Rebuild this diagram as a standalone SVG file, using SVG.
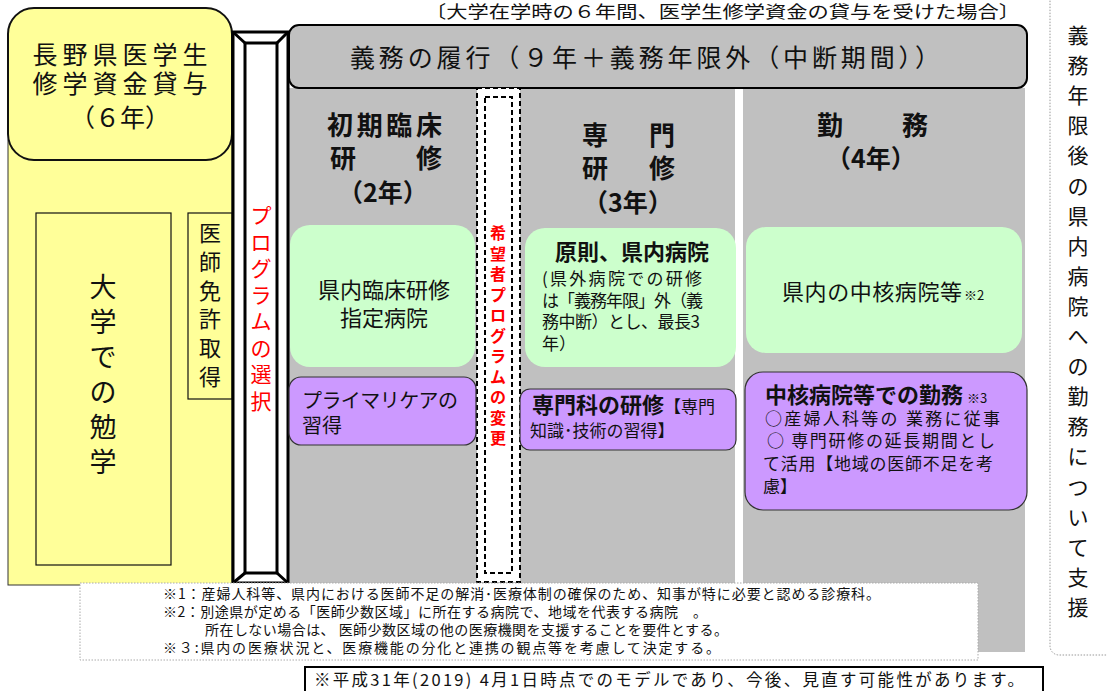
<svg xmlns="http://www.w3.org/2000/svg" width="1107" height="691" viewBox="0 0 1107 691">
<style>
text{font-family:"Noto Sans CJK JP","Noto Sans",sans-serif;fill:#111}
.b{font-weight:bold}
.red{fill:#ff0000}
.grn{fill:#ccffcc}
.pur{fill:#cc99ff;stroke:#333;stroke-width:1.2}
.bar{fill:#fff;stroke:#000;stroke-width:3}
.dbar{fill:#fff;stroke:#000;stroke-width:2;stroke-dasharray:5 3}
.vt{text-anchor:middle}
</style>
<rect width="1107" height="691" fill="#fff"/>
<text x="425" y="18" font-size="17.5" textLength="595" lengthAdjust="spacingAndGlyphs">〔大学在学時の６年間、医学生修学資金の貸与を受けた場合〕</text>

<g id="right-panel">
<rect x="1050" y="-12" width="72" height="667" rx="9" fill="#fff" stroke="#999" stroke-width="1" stroke-dasharray="1.5 1.5"/>
<text class="vt" font-size="21" x="1078" y="43"><tspan x="1078">義</tspan><tspan x="1078" dy="30.1">務</tspan><tspan x="1078" dy="30.1">年</tspan><tspan x="1078" dy="30.1">限</tspan><tspan x="1078" dy="30.1">後</tspan><tspan x="1078" dy="30.1">の</tspan><tspan x="1078" dy="30.1">県</tspan><tspan x="1078" dy="30.1">内</tspan><tspan x="1078" dy="30.1">病</tspan><tspan x="1078" dy="30.1">院</tspan><tspan x="1078" dy="30.1">へ</tspan><tspan x="1078" dy="30.1">の</tspan><tspan x="1078" dy="30.1">勤</tspan><tspan x="1078" dy="30.1">務</tspan><tspan x="1078" dy="30.1">に</tspan><tspan x="1078" dy="30.1">つ</tspan><tspan x="1078" dy="30.1">い</tspan><tspan x="1078" dy="30.1">て</tspan><tspan x="1078" dy="30.1">支</tspan><tspan x="1078" dy="30.1">援</tspan></text>
</g>

<g id="gray-area">
<rect x="289" y="88" width="736" height="564" fill="#c0c0c0"/>
<rect x="735" y="88" width="8" height="564" fill="#fff"/>
</g>

<g id="yellow-study">
<rect x="8" y="140" width="224" height="445" fill="#ffff99" stroke="#333" stroke-width="1"/>
<rect x="36" y="213" width="135" height="352" fill="#ffff99" stroke="#111" stroke-width="1.2"/>
<text class="vt" font-size="27" x="103" y="297"><tspan x="103">大</tspan><tspan x="103" dy="35">学</tspan><tspan x="103" dy="35">で</tspan><tspan x="103" dy="35">の</tspan><tspan x="103" dy="35">勉</tspan><tspan x="103" dy="35">学</tspan></text>
</g>

<g id="license">
<rect x="188" y="213" width="44" height="186" fill="#ffff99" stroke="#111" stroke-width="1.2"/>
<text class="vt" font-size="22" x="210" y="241"><tspan x="210">医</tspan><tspan x="210" dy="28.8">師</tspan><tspan x="210" dy="28.8">免</tspan><tspan x="210" dy="28.8">許</tspan><tspan x="210" dy="28.8">取</tspan><tspan x="210" dy="28.8">得</tspan></text>
</g>

<g id="loan">
<rect x="8" y="8" width="224" height="152" rx="26" fill="#ffff99" stroke="#111" stroke-width="2"/>
<text x="120" y="64" font-size="25" text-anchor="middle" textLength="175" lengthAdjust="spacing">長野県医学生</text>
<text x="120" y="93" font-size="25" text-anchor="middle" textLength="175" lengthAdjust="spacing">修学資金貸与</text>
<text x="120" y="127" font-size="25" text-anchor="middle">（６年）</text>
</g>

<g id="program-select">
<rect class="bar" x="233" y="32" width="55" height="551"/>
<rect class="bar" x="245" y="43" width="32" height="530"/>
<path d="M233 32L245 43M288 32L277 43M233 583L245 573M288 583L277 573" stroke="#000" stroke-width="3"/>
<text class="vt red" font-size="21" x="261" y="223"><tspan x="261">プ</tspan><tspan x="261" dy="26.5">ロ</tspan><tspan x="261" dy="26.5">グ</tspan><tspan x="261" dy="26.5">ラ</tspan><tspan x="261" dy="26.5">ム</tspan><tspan x="261" dy="26.5">の</tspan><tspan x="261" dy="26.5">選</tspan><tspan x="261" dy="26.5">択</tspan></text>
</g>

<g id="duty-title">
<rect x="289" y="25" width="738" height="63" rx="10" fill="#c0c0c0" stroke="#000" stroke-width="2"/>
<text x="350" y="67" font-size="25" textLength="590" lengthAdjust="spacing">義務の履行（９年＋義務年限外（中断期間））</text>
</g>

<g id="program-change">
<rect class="dbar" x="477" y="88" width="43" height="494"/>
<rect class="dbar" x="485" y="97" width="27" height="476"/>
<text class="vt red b" font-size="16" x="498" y="239"><tspan x="498">希</tspan><tspan x="498" dy="20.5">望</tspan><tspan x="498" dy="20.5">者</tspan><tspan x="498" dy="20.5">プ</tspan><tspan x="498" dy="20.5">ロ</tspan><tspan x="498" dy="20.5">グ</tspan><tspan x="498" dy="20.5">ラ</tspan><tspan x="498" dy="20.5">ム</tspan><tspan x="498" dy="20.5">の</tspan><tspan x="498" dy="20.5">変</tspan><tspan x="498" dy="20.5">更</tspan></text>
</g>

<g id="col-initial">
<text class="b" x="327" y="135" font-size="26" textLength="115" lengthAdjust="spacing">初期臨床</text>
<text class="b" x="330" y="168" font-size="26">研</text>
<text class="b" x="416" y="168" font-size="26">修</text>
<text class="b" x="383" y="202" font-size="25" text-anchor="middle">（2年）</text>
</g>
<g id="initial-hospital">
<rect class="grn" x="290" y="225" width="185" height="142" rx="20"/>
<text x="384" y="298" font-size="22" text-anchor="middle">県内臨床研修</text>
<text x="384" y="326" font-size="22" text-anchor="middle">指定病院</text>
</g>
<g id="primary-care">
<rect class="pur" x="289" y="377" width="187" height="68" rx="12"/>
<text x="302" y="408" font-size="20" textLength="156" lengthAdjust="spacing">プライマリケアの</text>
<text x="302" y="433" font-size="20">習得</text>
</g>

<g id="col-specialty">
<text class="b" x="582" y="145" font-size="26">専</text>
<text class="b" x="649" y="145" font-size="26">門</text>
<text class="b" x="582" y="178" font-size="26">研</text>
<text class="b" x="649" y="178" font-size="26">修</text>
<text class="b" x="628" y="212" font-size="25" text-anchor="middle">（3年）</text>
</g>
<g id="specialty-hospital">
<rect class="grn" x="525" y="228" width="211" height="139" rx="20"/>
<text class="b" x="632" y="260" font-size="22" text-anchor="middle">原則、県内病院</text>
<text x="542" y="285" font-size="17" textLength="160" lengthAdjust="spacing">(県外病院での研修</text>
<text x="542" y="307" font-size="17" textLength="161" lengthAdjust="spacing">は「義務年限」外（義</text>
<text x="542" y="328" font-size="17" textLength="158" lengthAdjust="spacing">務中断）とし、最長3</text>
<text x="542" y="350" font-size="17">年）</text>
</g>
<g id="specialty-training">
<rect class="pur" x="520" y="389" width="216" height="61" rx="10"/>
<text x="532" y="413"><tspan class="b" font-size="22">専門科の研修</tspan><tspan font-size="17">【専門</tspan></text>
<text x="530" y="437" font-size="17">知識･技術の習得】</text>
</g>

<g id="col-work">
<text class="b" x="817" y="135" font-size="26">勤</text>
<text class="b" x="902" y="135" font-size="26">務</text>
<text class="b" x="871" y="168" font-size="25" text-anchor="middle">（4年）</text>
</g>
<g id="core-hospital">
<rect class="grn" x="746" y="227" width="276" height="126" rx="20"/>
<text x="782" y="300" font-size="22" textLength="180" lengthAdjust="spacing">県内の中核病院等</text>
<text x="964" y="300" font-size="13">※2</text>
</g>
<g id="core-work">
<rect class="pur" x="745" y="372" width="282" height="138" rx="18"/>
<text x="765" y="403"><tspan class="b" font-size="22">中核病院等での勤務</tspan><tspan font-size="13" dx="4">※3</tspan></text>
<text x="765" y="425" font-size="17" textLength="235" lengthAdjust="spacing">○産婦人科等の 業務に従事</text>
<text x="767" y="447" font-size="17" textLength="228" lengthAdjust="spacing"> ○ 専門研修の延長期間とし</text>
<text x="763" y="470" font-size="17" textLength="230" lengthAdjust="spacing">て活用【地域の医師不足を考</text>
<text x="763" y="493" font-size="17">慮】</text>
</g>

<g id="connectors"></g>

<g id="footnotes">
<rect x="80" y="583" width="898" height="77" fill="#fff" stroke="#aaa" stroke-width="1" stroke-dasharray="1.5 1.5"/>
<text x="163" y="599" font-size="14" textLength="717" lengthAdjust="spacing">※1：産婦人科等、県内における医師不足の解消･医療体制の確保のため、知事が特に必要と認める診療科。</text>
<text x="163" y="617" font-size="14" textLength="544" lengthAdjust="spacing">※2：別途県が定める「医師少数区域」に所在する病院で、地域を代表する病院　。</text>
<text x="205" y="635" font-size="14" textLength="523" lengthAdjust="spacing">所在しない場合は、 医師少数区域の他の医療機関を支援することを要件とする。</text>
<text x="163" y="653" font-size="14" textLength="557" lengthAdjust="spacing">※３:県内の医療状況と、医療機能の分化と連携の観点等を考慮して決定する。</text>
</g>

<g id="note">
<rect x="305" y="667" width="738" height="40" fill="#fff" stroke="#000" stroke-width="2"/>
<text x="314" y="686" font-size="16.5" textLength="710" lengthAdjust="spacing">※平成31年(2019) 4月1日時点でのモデルであり、今後、見直す可能性があります。</text>
</g>
</svg>
